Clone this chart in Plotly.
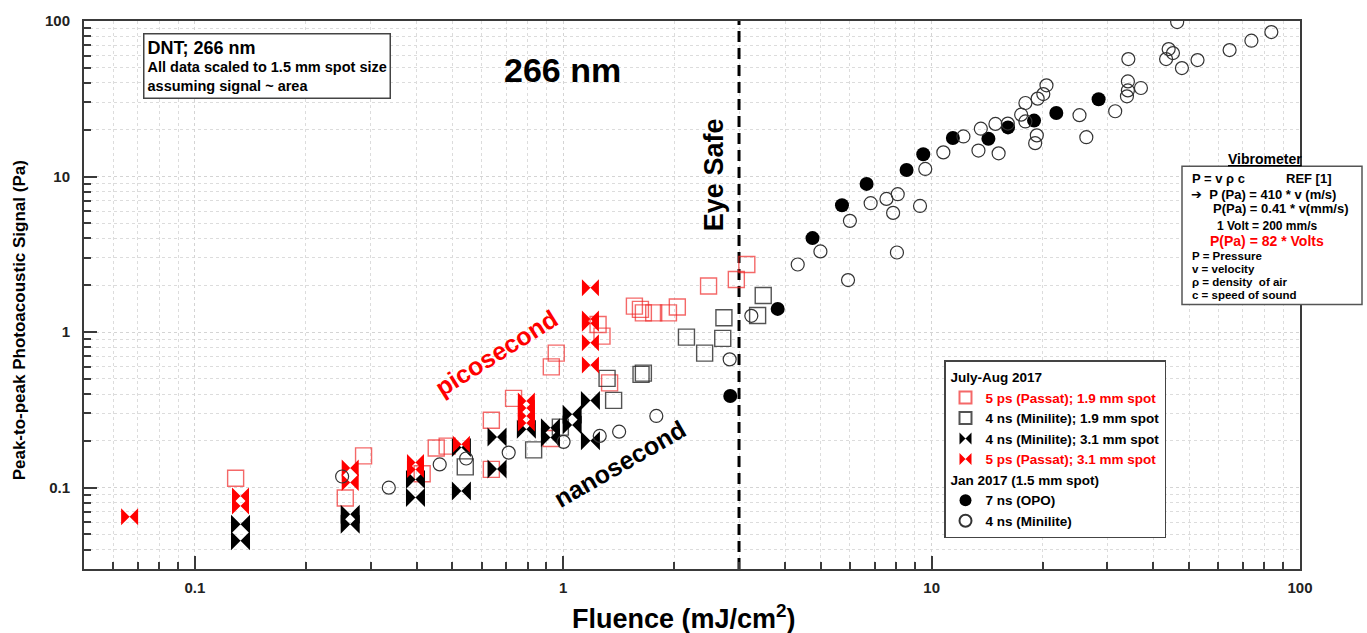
import plotly.graph_objects as go

# ---------------- data ----------------
# July-Aug 2017: 5 ps (Passat); 1.9 mm spot  (red open squares)
ps19_x = [0.129, 0.256, 0.287, 0.414, 0.452, 0.484, 0.638, 0.638, 0.733, 0.928, 0.957, 0.927,
          1.243, 1.274, 1.336, 1.56, 1.62, 1.65, 1.76, 1.93, 2.04, 2.48, 2.95, 3.15]
ps19_y = [0.115, 0.0859, 0.160, 0.123, 0.180, 0.185, 0.271, 0.131, 0.375, 0.598, 0.733, 0.207,
          1.12, 0.942, 0.472, 1.47, 1.40, 1.33, 1.33, 1.33, 1.45, 1.98, 2.18, 2.72]

# 4 ns (Minilite); 1.9 mm spot (black open squares)
ns19_x = [0.542, 0.831, 0.982, 1.315, 1.37, 1.626, 1.65, 2.16, 2.42, 2.71, 2.73, 3.37, 3.49]
ns19_y = [0.136, 0.175, 0.245, 0.504, 0.364, 0.535, 0.545, 0.929, 0.733, 0.911, 1.236, 1.28, 1.72]

# 4 ns (Minilite); 3.1 mm spot (black bowties)
ns31_x = [0.133, 0.133, 0.264, 0.264, 0.397, 0.397, 0.529, 0.529, 0.661, 0.661, 0.794,
          0.923, 0.923, 1.057, 1.057, 1.185, 1.185]
ns31_y = [0.0582, 0.0455, 0.0675, 0.0582, 0.113, 0.0863, 0.181, 0.0952, 0.212, 0.132, 0.237,
          0.243, 0.210, 0.296, 0.253, 0.364, 0.200]

# 5 ps (Passat); 3.1 mm spot (red bowties)
ps31_x = [0.0665, 0.133, 0.133, 0.264, 0.264, 0.397, 0.397, 0.529, 0.794, 0.794, 0.794, 0.794,
          1.185, 1.185, 1.185, 1.185, 1.185]
ps31_y = [0.0651, 0.0885, 0.0763, 0.134, 0.108, 0.145, 0.131, 0.190, 0.361, 0.325, 0.289, 0.260,
          1.93, 1.212, 1.14, 0.853, 0.614]

# Jan 2017: 7 ns (OPO) (filled circles)
opo_x = [2.84, 3.82, 4.75, 5.71, 6.66, 8.55, 9.49, 11.42, 14.26, 16.12, 18.97, 21.8, 28.4]
opo_y = [0.388, 1.41, 4.02, 6.54, 8.97, 11.03, 13.9, 17.7, 17.5, 20.7, 22.9, 25.6, 31.4]

# Jan 2017: 4 ns (Minilite) (open circles)
mini_x = [0.251, 0.336, 0.462, 0.545, 0.711, 1.002, 1.256, 1.418, 1.789, 2.83, 3.24, 4.33, 4.99,
          5.93, 6.00, 6.83, 7.54, 7.86, 8.09, 8.05, 9.30, 9.61, 10.76, 12.2, 13.4, 13.6, 14.9,
          15.2, 16.1, 17.5, 17.97, 17.97, 19.3, 19.1, 19.4, 20.1, 20.5, 25.2, 26.3, 31.5, 33.9,
          34.1, 34.1, 37.0, 34.2, 43.3, 44.0, 45.2, 47.8, 52.7, 46.4, 64.4, 73.8, 83.6]
mini_y = [0.118, 0.100, 0.141, 0.154, 0.168, 0.197, 0.215, 0.229, 0.289, 0.668, 1.273, 2.72, 3.30,
          2.16, 5.19, 6.74, 7.18, 5.84, 7.70, 3.25, 6.47, 11.19, 14.3, 18.1, 14.7, 20.3, 21.8,
          14.1, 21.9, 25.0, 22.6, 29.7, 18.4, 16.4, 31.7, 33.9, 38.6, 24.8, 17.9, 26.3, 32.8,
          35.8, 40.9, 37.1, 56.9, 56.9, 66.0, 62.2, 49.8, 56.1, 98.4, 65.0, 74.7, 84.9]

eye_safe_x = [3.0, 3.0]
eye_safe_y = [0.03, 100]

x_ticks = [0.1, 1, 10, 100]
x_ticklabels = ["0.1", "1", "10", "100"]
y_ticks = [0.1, 1, 10, 100]
y_ticklabels = ["0.1", "1", "10", "100"]

# ---------------- layout helpers ----------------
W, H = 1367, 633
ML, MR, MT, MB = 84, 67, 18, 64
PW = W - ML - MR
PH = H - MT - MB


def pxx(x):
    return (x - ML) / PW


def pxy(y):
    return (H - MB - y) / PH


FONT = "Liberation Sans, Arial, sans-serif"
RED = "#ff0000"

fig = go.Figure()

fig.add_trace(go.Scatter(x=eye_safe_x, y=eye_safe_y, mode="lines", showlegend=False,
                         hoverinfo="skip",
                         line=dict(color="black", width=3, dash="11px,6px")))

fig.add_trace(go.Scatter(
    x=ps19_x, y=ps19_y, mode="markers", legendgroup="g1",
    legendgrouptitle=dict(text="July-Aug 2017", font=dict(family=FONT, size=13.5, color="black", weight="bold")),
    name="<span style='color:#ff0000'>5 ps (Passat); 1.9 mm spot</span>",
    marker=dict(symbol="square-open", size=16, color="rgba(240,40,40,0.7)", line=dict(width=1.4))))

fig.add_trace(go.Scatter(
    x=ns19_x, y=ns19_y, mode="markers", legendgroup="g1",
    name="4 ns (Minilite); 1.9 mm spot",
    marker=dict(symbol="square-open", size=16, color="rgba(40,40,40,0.8)", line=dict(width=1.4))))

fig.add_trace(go.Scatter(
    x=ns31_x, y=ns31_y, mode="markers", legendgroup="g1",
    name="4 ns (Minilite); 3.1 mm spot",
    marker=dict(symbol="bowtie", size=19, color="black", line=dict(width=0))))

fig.add_trace(go.Scatter(
    x=ps31_x, y=ps31_y, mode="markers", legendgroup="g1",
    name="<span style='color:#ff0000'>5 ps (Passat); 3.1 mm spot</span>",
    marker=dict(symbol="bowtie", size=17, color=RED, line=dict(width=0))))

fig.add_trace(go.Scatter(
    x=opo_x, y=opo_y, mode="markers", legendgroup="g2",
    legendgrouptitle=dict(text="Jan 2017 (1.5 mm spot)", font=dict(family=FONT, size=13.5, color="black", weight="bold")),
    name="7 ns (OPO)",
    marker=dict(symbol="circle", size=14, color="black", line=dict(width=0))))

fig.add_trace(go.Scatter(
    x=mini_x, y=mini_y, mode="markers", legendgroup="g2",
    name="4 ns (Minilite)",
    marker=dict(symbol="circle-open", size=13, color="#333333", line=dict(width=1.2))))

axis_common = dict(
    type="log", showline=True, linecolor="#3a3a3a", linewidth=2, mirror=True,
    ticks="inside", ticklen=13, tickwidth=2, tickcolor="#3a3a3a",
    showgrid=True, gridcolor="#d4d4d4", griddash="dot", gridwidth=1,
    zeroline=False,
    tickfont=dict(family=FONT, size=15, color="#222222", weight="bold"),
    minor=dict(ticks="inside", ticklen=7, tickwidth=1.5, tickcolor="#3a3a3a",
               showgrid=True, gridcolor="#dcdcdc", griddash="dot", gridwidth=1, dtick="D1"),
)

fig.update_xaxes(range=[-1.30103, 2], tickvals=x_ticks, ticktext=x_ticklabels,
                 ticklabelstandoff=4, **axis_common)
fig.update_yaxes(range=[-1.5229, 2], tickvals=y_ticks, ticktext=y_ticklabels,
                 ticklabelstandoff=9, **axis_common)

ann = []


def add_text(text, x, y, size, color="black", bold=True, xanchor="center", yanchor="middle",
             angle=0, **kw):
    ann.append(dict(text=text, x=pxx(x), y=pxy(y), xref="paper", yref="paper",
                    xanchor=xanchor, yanchor=yanchor, showarrow=False, textangle=angle,
                    font=dict(family=FONT, size=size, color=color,
                              weight="bold" if bold else "normal"), **kw))


# axis titles
add_text("Fluence (mJ/cm<sup>2</sup>)", 684, 617, 27)
add_text("Peak-to-peak Photoacoustic Signal (Pa)", 19, 319, 17, angle=-90)

# info box
ann.append(dict(
    text="<span style='font-size:18px'>DNT; 266 nm</span><br>All data scaled to 1.5 mm spot size<br>assuming signal ~ area",
    x=pxx(143), y=pxy(30), xref="paper", yref="paper", xanchor="left", yanchor="top",
    align="left", showarrow=False, bgcolor="white", bordercolor="#444444", borderwidth=1.5,
    borderpad=3, font=dict(family=FONT, size=14.5, color="black", weight="bold")))

add_text("266 nm", 562, 67, 34)
add_text("Eye Safe", 714, 173, 27, angle=-90)
add_text("picosecond", 496, 352, 25, color=RED, angle=-32)
add_text("nanosecond", 619, 463, 25, angle=-30)

# vibrometer box text
add_text("<u>Vibrometer</u>", 1265, 157, 14)
add_text("P = v ρ c", 1190, 176, 13, xanchor="left")
add_text("REF [1]", 1284, 176, 13, xanchor="left")
add_text("<span style='font-family:DejaVu Sans;font-size:13px'>➔</span>  P (Pa) = 410 * v (m/s)",
         1189, 192, 13, xanchor="left")
add_text("P(Pa) = 0.41 * v(mm/s)", 1211, 207, 13, xanchor="left")
add_text("1 Volt = 200 mm/s", 1215, 224, 12, xanchor="left")
add_text("P(Pa) = 82 * Volts", 1208, 239, 14, color=RED, xanchor="left")
add_text("P = Pressure", 1190, 254, 11.5, xanchor="left")
add_text("v = velocity", 1190, 267, 11.5, xanchor="left")
add_text("ρ = density  of air", 1190, 280, 11.5, xanchor="left")
add_text("c = speed of sound", 1190, 293, 11.5, xanchor="left")

shapes = [dict(type="rect", xref="paper", yref="paper",
               x0=pxx(1182), x1=pxx(1362), y0=pxy(303), y1=pxy(164),
               line=dict(color="#555555", width=1.5), fillcolor="white", layer="above")]

fig.update_layout(
    width=W, height=H,
    margin=dict(l=ML, r=MR, t=MT, b=MB),
    paper_bgcolor="white", plot_bgcolor="white",
    annotations=ann, shapes=shapes,
    legend=dict(x=pxx(944), y=pxy(359), xanchor="left", yanchor="top",
                bgcolor="white", bordercolor="#444444", borderwidth=1.5,
                font=dict(family=FONT, size=13.5, color="black", weight="bold"),
                traceorder="grouped", tracegroupgap=0, itemsizing="constant"),
    showlegend=True,
)

fig.write_html("out.html")
